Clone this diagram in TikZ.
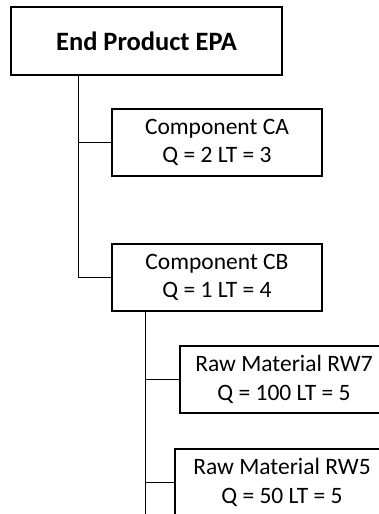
\documentclass[tikz,border=0pt]{standalone}
\usepackage{fontspec}
\setmainfont{Carlito}
\tikzset{
  part/.style={draw, line width=1.3pt, rectangle, align=center, inner sep=0pt,
    minimum width=210pt, minimum height=67pt, font=\fontsize{23.5}{28.7}\selectfont},
  link/.style={line width=1.3pt}
}
\begin{document}
\begin{tikzpicture}[x=1pt,y=-1pt]
  \useasboundingbox (0,0) rectangle (379,514);
  \clip (0,0) rectangle (379,514);

  %end product
  \node[part, minimum width=271pt, minimum height=68pt,
    font=\fontsize{26.5}{32}\selectfont\bfseries] (epa) at (146.5,41) {End Product EPA};

  %components
  \node[part] (ca) at (217,142.5) {Component CA\\Q = 2 LT = 3};
  \node[part] (cb) at (217,277.5) {Component CB\\Q = 1 LT = 4};

  %raw materials
  \node[part, minimum width=208pt] (rw7) at (284,379.5) {Raw Material RW7\\Q = 100 LT = 5};
  \node[part, minimum width=214pt] (rw5) at (282,482.5) {Raw Material RW5\\Q = 50 LT = 5};

  %links
  \draw[link] ([xshift=68pt]epa.south west) |- (ca.west);
  \draw[link] ([xshift=68pt]epa.south west) |- (cb.west);
  \draw[link] ([xshift=34pt]cb.south west) |- (rw7.west);
  \draw[link] ([xshift=34pt]cb.south west) |- (rw5.west);
  \draw[link] ([xshift=34pt]cb.south west) -- ([xshift=34pt]cb.south west |- rw5.south);

\end{tikzpicture}
\end{document}
